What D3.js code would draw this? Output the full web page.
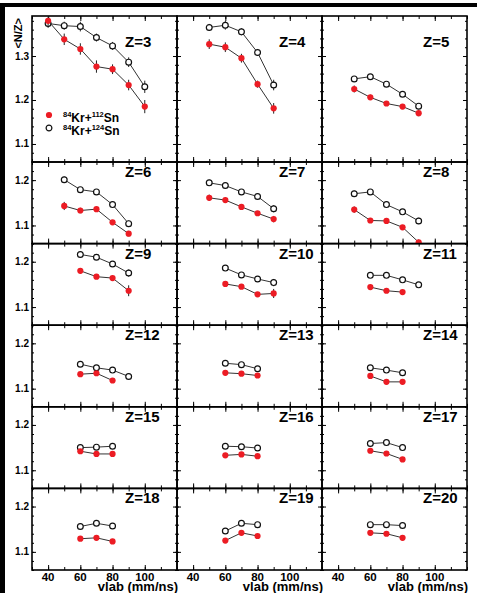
<!DOCTYPE html>
<html>
<head>
<meta charset="utf-8">
<script src="https://cdn.jsdelivr.net/npm/d3@7"></script>
<style>
    body { margin: 0; background: #fff; }
    svg { display: block; font-family: "Liberation Sans", Arial, Helvetica, sans-serif; font-weight: bold; }
</style>
</head>
<body>
<svg id="chart" width="477" height="593"></svg>
<script>
(function () {
    'use strict';

    // charge of the fragment, one panel each
    const zList = [3, 4, 5, 6, 7, 8, 9, 10, 11, 12, 13, 14, 15, 16, 17, 18, 19, 20];
    const vlab = [40, 50, 60, 70, 80, 90, 100];

    // 84Kr+112Sn (full red)
    const nz112 = [
        [1.380, 1.338, 1.316, 1.276, 1.270, 1.234, 1.185],
        [null, 1.327, 1.320, 1.295, 1.236, 1.181, null],
        [null, 1.225, 1.206, 1.192, 1.185, 1.170, null],
        [null, 1.143, 1.133, 1.136, 1.107, 1.082, null],
        [null, 1.161, 1.156, 1.141, 1.127, 1.114, null],
        [null, 1.135, 1.111, 1.110, 1.096, 1.063, null],
        [null, null, 1.180, 1.167, 1.164, 1.136, null],
        [null, null, 1.151, 1.145, 1.128, 1.130, null],
        [null, null, 1.144, 1.136, 1.133, null, null],
        [null, null, 1.132, 1.134, 1.118, null, null],
        [null, null, 1.135, 1.133, 1.129, null, null],
        [null, null, 1.128, 1.115, 1.115, null, null],
        [null, null, 1.142, 1.136, 1.136, null, null],
        [null, null, 1.133, 1.135, 1.131, null, null],
        [null, null, 1.143, 1.137, 1.124, null, null],
        [null, null, 1.129, 1.131, 1.123, null, null],
        [null, null, 1.125, 1.142, 1.135, null, null],
        [null, null, 1.142, 1.140, 1.131, null, null]
    ];
    const err112 = [
        [0.011, 0.013, 0.013, 0.014, 0.011, 0.012, 0.015],
        [null, 0.011, 0.011, 0.010, 0.008, 0.012, null],
        [null, 0.008, 0.006, 0.005, 0.005, 0.007, null],
        [null, 0.009, 0.006, 0.005, 0.005, 0.006, null],
        [null, 0.007, 0.006, 0.004, 0.004, 0.007, null],
        [null, 0.007, 0.004, 0.004, 0.004, 0.006, null],
        [null, null, 0.003, 0.004, 0.005, 0.012, null],
        [null, null, 0.003, 0.003, 0.003, 0.010, null],
        [null, null, 0.003, 0.003, 0.003, null, null],
        [null, null, 0.003, 0.003, 0.003, null, null],
        [null, null, 0.003, 0.003, 0.003, null, null],
        [null, null, 0.003, 0.003, 0.003, null, null],
        [null, null, 0.003, 0.003, 0.003, null, null],
        [null, null, 0.003, 0.003, 0.003, null, null],
        [null, null, 0.003, 0.003, 0.003, null, null],
        [null, null, 0.003, 0.003, 0.003, null, null],
        [null, null, 0.003, 0.003, 0.003, null, null],
        [null, null, 0.003, 0.003, 0.003, null, null]
    ];

    // 84Kr+124Sn (open)
    const nz124 = [
        [1.374, 1.369, 1.367, 1.342, 1.323, 1.286, 1.230],
        [null, 1.365, 1.370, 1.355, 1.308, 1.234, null],
        [null, 1.248, 1.253, 1.236, 1.213, 1.186, null],
        [null, 1.201, 1.179, 1.174, 1.146, 1.104, null],
        [null, 1.194, 1.188, 1.174, 1.164, 1.137, null],
        [null, 1.170, 1.174, 1.146, 1.130, 1.110, null],
        [null, null, 1.216, 1.210, 1.195, 1.175, null],
        [null, null, 1.186, 1.171, 1.162, 1.154, null],
        [null, null, 1.170, 1.170, 1.160, 1.149, null],
        [null, null, 1.154, 1.146, 1.141, 1.127, null],
        [null, null, 1.156, 1.153, 1.144, null, null],
        [null, null, 1.146, 1.141, 1.135, null, null],
        [null, null, 1.150, 1.151, 1.153, null, null],
        [null, null, 1.153, 1.152, 1.149, null, null],
        [null, null, 1.159, 1.161, 1.150, null, null],
        [null, null, 1.156, 1.163, 1.157, null, null],
        [null, null, 1.146, 1.163, 1.160, null, null],
        [null, null, 1.160, 1.160, 1.158, null, null]
    ];
    const err124 = [
        [0.010, 0.009, 0.011, 0.009, 0.009, 0.011, 0.014],
        [null, 0.008, 0.010, 0.008, 0.008, 0.012, null],
        [null, 0.006, 0.005, 0.005, 0.005, 0.007, null],
        [null, 0.007, 0.004, 0.004, 0.004, 0.007, null],
        [null, 0.007, 0.004, 0.004, 0.004, 0.008, null],
        [null, 0.007, 0.004, 0.004, 0.004, 0.007, null],
        [null, null, 0.004, 0.004, 0.004, 0.008, null],
        [null, null, 0.003, 0.003, 0.003, 0.008, null],
        [null, null, 0.003, 0.003, 0.004, 0.005, null],
        [null, null, 0.003, 0.003, 0.003, 0.006, null],
        [null, null, 0.003, 0.003, 0.003, null, null],
        [null, null, 0.003, 0.003, 0.003, null, null],
        [null, null, 0.003, 0.003, 0.003, null, null],
        [null, null, 0.003, 0.003, 0.003, null, null],
        [null, null, 0.003, 0.003, 0.003, null, null],
        [null, null, 0.003, 0.003, 0.003, null, null],
        [null, null, 0.003, 0.003, 0.003, null, null],
        [null, null, 0.003, 0.003, 0.003, null, null]
    ];

    const yTickLabels = [1.1, 1.2, 1.3];
    const xTickLabels = [40, 60, 80, 100];
    const xTitle = 'vlab (mm/ns)';
    const yTitle = '<N/Z>';
    const legendItems = [
        { a: '84', b: 'Kr+', c: '112', d: 'Sn', open: false },
        { a: '84', b: 'Kr+', c: '124', d: 'Sn', open: true }
    ];

    const left = 32;
    const top = 16;
    const panelWidth = 145;
    const firstRowHeight = 146;
    const rowHeight = 81.6;
    const nCols = 3;
    const red = '#ec1c24';
    const lineColor = '#333';

    const svg = d3.select('#chart');

    // thick frame at top and left of the picture
    svg.append('rect').attr('x', 0).attr('y', 3).attr('width', 477).attr('height', 4).attr('fill', '#000');
    svg.append('rect').attr('x', 0).attr('y', 3).attr('width', 5).attr('height', 590).attr('fill', '#000');

    const x = d3.scaleLinear().domain([30, 120]).range([0, panelWidth]);

    const rowTop = (r) => {
        return r === 0 ? top : top + firstRowHeight + (r - 1) * rowHeight;
    };
    const rowH = (r) => {
        return r === 0 ? firstRowHeight : rowHeight;
    };

    const xMinor = d3.range(30, 121, 10);
    const xMajor = [40, 60, 80, 100];

    zList.forEach((z, i) => {
        const col = i % nCols;
        const row = Math.floor(i / nCols);
        const h = rowH(row);
        const y = d3.scaleLinear()
            .domain(row === 0 ? [1.059, 1.391] : [1.06, 1.24])
            .range([h, 0]);
        const yMinor = d3.range(53, 70).map((k) => {
            return k / 50;
        }).filter((v) => {
            return v >= y.domain()[0] && v <= y.domain()[1];
        });
        const yMajor = yMinor.filter((v) => {
            return Math.abs(v * 10 - Math.round(v * 10)) < 1e-6;
        });

        const g = svg.append('g')
            .attr('transform', `translate(${left + col * panelWidth}, ${rowTop(row)})`);

        const clipId = `clip${z}`;
        g.append('clipPath').attr('id', clipId)
            .append('rect').attr('width', panelWidth).attr('height', h);

        // inward ticks on all four sides
        const tickSets = [
            [d3.axisRight(y), yMinor, 2, `translate(0,0)`],
            [d3.axisRight(y), yMajor, 4, `translate(0,0)`],
            [d3.axisLeft(y), yMinor, 2, `translate(${panelWidth},0)`],
            [d3.axisLeft(y), yMajor, 4, `translate(${panelWidth},0)`],
            [d3.axisBottom(x), xMinor, 3, `translate(0,0)`],
            [d3.axisBottom(x), xMajor, 5, `translate(0,0)`],
            [d3.axisTop(x), xMinor, 3, `translate(0,${h})`],
            [d3.axisTop(x), xMajor, 5, `translate(0,${h})`]
        ];
        tickSets.forEach((t) => {
            const ax = g.append('g')
                .attr('transform', t[3])
                .call(t[0].tickValues(t[1]).tickSize(t[2]).tickFormat(''));
            ax.select('.domain').remove();
            ax.selectAll('line').attr('stroke', '#000').attr('stroke-width', 1);
        });

        g.append('rect')
            .attr('width', panelWidth)
            .attr('height', h)
            .attr('fill', 'none')
            .attr('stroke', '#000')
            .attr('stroke-width', 1.6);

        // y tick labels on the first column
        if (col === 0) {
            g.selectAll('.ylab')
                .data(yTickLabels.filter((v) => {
                    return v >= y.domain()[0] && v <= y.domain()[1];
                }))
                .enter().append('text')
                    .attr('class', 'ylab')
                    .attr('x', -3)
                    .attr('y', (d) => {
                        return y(d) + 3.5;
                    })
                    .attr('text-anchor', 'end')
                    .attr('font-size', 10)
                    .text((d) => {
                        return d.toFixed(1);
                    });
        }

        // x tick labels and title on the last row
        if (row === 5) {
            g.selectAll('.xlab')
                .data(xTickLabels)
                .enter().append('text')
                    .attr('class', 'xlab')
                    .attr('x', (d) => {
                        return x(d);
                    })
                    .attr('y', h + 11)
                    .attr('text-anchor', 'middle')
                    .attr('font-size', 11.5)
                    .text((d) => {
                        return d;
                    });
            g.append('text')
                .attr('x', panelWidth + 1)
                .attr('y', h + 21)
                .attr('text-anchor', 'end')
                .attr('font-size', 13)
                .text(xTitle);
        }

        g.append('text')
            .attr('x', [93, 102, 101][col])
            .attr('y', row === 0 ? 31 : 15)
            .attr('font-size', 15)
            .text(`Z=${z}`);

        const plot = g.append('g').attr('clip-path', `url(#${clipId})`);

        const series = [
            { vals: nz124[i], errs: err124[i], open: true },
            { vals: nz112[i], errs: err112[i], open: false }
        ];

        series.forEach((s) => {
            const pts = vlab.map((v, k) => {
                return { v: v, nz: s.vals[k], e: s.errs[k] };
            }).filter((d) => {
                return d.nz !== null;
            });

            plot.append('path')
                .datum(pts)
                .attr('fill', 'none')
                .attr('stroke', lineColor)
                .attr('stroke-width', 1)
                .attr('d', d3.line()
                    .x((d) => {
                        return x(d.v);
                    })
                    .y((d) => {
                        return y(d.nz);
                    }));

            plot.selectAll(null)
                .data(pts)
                .enter().append('line')
                    .attr('x1', (d) => {
                        return x(d.v);
                    })
                    .attr('x2', (d) => {
                        return x(d.v);
                    })
                    .attr('y1', (d) => {
                        return y(d.nz - d.e);
                    })
                    .attr('y2', (d) => {
                        return y(d.nz + d.e);
                    })
                    .attr('stroke', '#222')
                    .attr('stroke-width', 1);

            plot.selectAll(null)
                .data(pts)
                .enter().append('circle')
                    .attr('cx', (d) => {
                        return x(d.v);
                    })
                    .attr('cy', (d) => {
                        return y(d.nz);
                    })
                    .attr('r', s.open ? 2.9 : 3.1)
                    .attr('fill', s.open ? '#fff' : red)
                    .attr('stroke', s.open ? '#111' : 'none')
                    .attr('stroke-width', 1.2);
        });

        if (i === 0) {
            const leg = g.selectAll('.leg')
                .data(legendItems)
                .enter().append('g')
                    .attr('class', 'leg')
                    .attr('transform', (d, k) => {
                        return `translate(17, ${99 + k * 13})`;
                    });
            leg.append('circle')
                .attr('r', (d) => {
                    return d.open ? 2.9 : 3.1;
                })
                .attr('fill', (d) => {
                    return d.open ? '#fff' : red;
                })
                .attr('stroke', (d) => {
                    return d.open ? '#111' : 'none';
                })
                .attr('stroke-width', 1.2);
            const txt = leg.append('text')
                .attr('x', 14)
                .attr('y', 7)
                .attr('font-size', 12);
            txt.append('tspan').attr('font-size', 7.5).attr('dy', -5).text((d) => {
                return d.a;
            });
            txt.append('tspan').attr('dy', 5).text((d) => {
                return d.b;
            });
            txt.append('tspan').attr('font-size', 7.5).attr('dy', -5).text((d) => {
                return d.c;
            });
            txt.append('tspan').attr('dy', 5).text((d) => {
                return d.d;
            });
        }
    });

    svg.append('text')
        .attr('transform', `translate(22, ${top + 2}) rotate(-90)`)
        .attr('text-anchor', 'end')
        .attr('font-size', 11)
        .text(yTitle);
})();
</script>
</body>
</html>
